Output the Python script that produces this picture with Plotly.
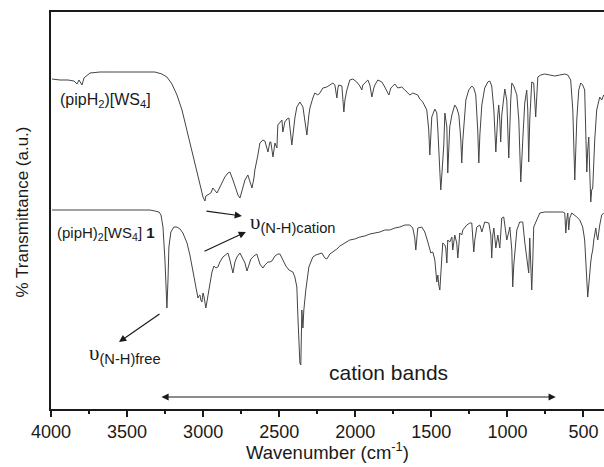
import plotly.graph_objects as go

# (wavenumber cm-1, transmittance a.u.)
top_points = [
    (3993, 330), (3941, 329), (3888, 329), (3849, 328), (3829, 325), (3816, 329), (3796, 324), (3783, 331),
    (3744, 336), (3678, 337), (3547, 337), (3415, 337), (3317, 337), (3271, 335), (3238, 332), (3205, 325),
    (3172, 314), (3139, 299), (3106, 279), (3074, 259), (3041, 239), (3015, 221), (3001, 212), (2988, 208),
    (2982, 213), (2969, 214), (2949, 216), (2936, 221), (2923, 218), (2909, 216), (2883, 224), (2857, 232),
    (2837, 236), (2824, 237), (2804, 229), (2791, 223), (2771, 214), (2758, 211), (2739, 221), (2725, 229),
    (2706, 234), (2693, 227), (2679, 221), (2666, 231), (2660, 239), (2640, 254), (2627, 266), (2607, 269),
    (2594, 268), (2574, 257), (2561, 267), (2555, 267), (2541, 252), (2528, 266), (2515, 261), (2509, 284),
    (2482, 289), (2476, 277), (2463, 287), (2449, 290), (2436, 291), (2417, 264), (2403, 284), (2397, 291),
    (2384, 302), (2364, 307), (2344, 302), (2331, 289), (2318, 274), (2305, 294), (2298, 301), (2279, 311),
    (2266, 316), (2246, 314), (2233, 316), (2213, 321), (2187, 322), (2167, 324), (2147, 326), (2134, 324),
    (2121, 311), (2114, 321), (2108, 324), (2088, 323), (2082, 314), (2075, 297), (2068, 309), (2055, 319),
    (2036, 329), (2016, 330), (1990, 327), (1970, 323), (1957, 319), (1950, 324), (1937, 326), (1917, 329),
    (1904, 324), (1891, 312), (1878, 321), (1871, 324), (1852, 329), (1825, 327), (1806, 322), (1792, 318),
    (1779, 314), (1766, 321), (1740, 325), (1720, 321), (1694, 322), (1674, 319), (1661, 317), (1641, 314),
    (1622, 316), (1589, 314), (1576, 310), (1556, 307), (1530, 299), (1517, 279), (1510, 254), (1503, 274),
    (1497, 292), (1477, 300), (1464, 296), (1457, 279), (1444, 234), (1438, 219), (1431, 234), (1425, 249),
    (1418, 264), (1411, 296), (1405, 289), (1398, 282), (1392, 236), (1385, 259), (1379, 282), (1365, 294),
    (1346, 304), (1333, 301), (1319, 294), (1306, 269), (1300, 246), (1293, 269), (1273, 309), (1254, 319),
    (1234, 323), (1221, 321), (1208, 314), (1195, 279), (1188, 246), (1181, 274), (1168, 304), (1149, 321),
    (1129, 327), (1116, 328), (1103, 323), (1089, 299), (1076, 257), (1063, 294), (1057, 304), (1050, 289),
    (1044, 267), (1037, 294), (1017, 320), (1004, 309), (991, 251), (978, 309), (971, 326), (958, 323),
    (938, 314), (925, 289), (912, 227), (899, 269), (886, 306), (873, 319), (866, 299), (860, 247),
    (853, 289), (840, 327), (827, 326), (814, 292), (800, 332), (781, 334), (754, 335), (722, 334),
    (689, 333), (656, 334), (623, 335), (603, 334), (584, 329), (570, 299), (557, 229), (544, 289),
    (531, 319), (518, 326), (505, 324), (492, 319), (485, 279), (478, 237), (472, 259), (465, 272),
    (459, 239), (452, 207), (446, 219), (439, 221), (426, 269), (413, 299), (393, 312), (380, 309),
    (367, 314),
]

bottom_points = [
    (3993, 199), (3875, 199), (3678, 199), (3481, 199), (3350, 199), (3317, 198), (3290, 197), (3277, 194),
    (3264, 182), (3251, 149), (3244, 124), (3238, 101), (3231, 129), (3225, 162), (3212, 177), (3192, 182),
    (3172, 182), (3152, 180), (3133, 176), (3106, 166), (3087, 154), (3067, 139), (3047, 124), (3034, 111),
    (3028, 113), (3021, 114), (3015, 109), (3008, 107), (3001, 116), (2995, 113), (2982, 101), (2975, 107),
    (2969, 112), (2955, 126), (2942, 137), (2929, 143), (2916, 141), (2903, 142), (2890, 147), (2870, 152),
    (2850, 155), (2837, 156), (2824, 149), (2804, 136), (2791, 147), (2778, 152), (2758, 156), (2739, 151),
    (2725, 146), (2712, 138), (2699, 145), (2686, 150), (2666, 153), (2647, 155), (2627, 145), (2607, 141),
    (2594, 144), (2574, 147), (2561, 147), (2548, 148), (2528, 153), (2509, 155), (2495, 155), (2476, 149),
    (2456, 143), (2436, 139), (2410, 137), (2397, 132), (2384, 122), (2377, 92), (2371, 64), (2364, 46),
    (2358, 44), (2351, 99), (2344, 81), (2338, 99), (2325, 119), (2318, 126), (2305, 142), (2292, 147),
    (2279, 152), (2259, 154), (2233, 155), (2220, 156), (2200, 151), (2187, 150), (2167, 155), (2147, 157),
    (2121, 160), (2101, 163), (2068, 166), (2036, 169), (2003, 170), (1970, 172), (1937, 173), (1904, 175),
    (1871, 176), (1838, 177), (1806, 179), (1773, 179), (1740, 181), (1707, 182), (1674, 184), (1641, 184),
    (1622, 181), (1609, 171), (1602, 159), (1595, 169), (1589, 181), (1563, 182), (1543, 177), (1523, 167),
    (1503, 156), (1490, 157), (1477, 149), (1464, 127), (1457, 134), (1451, 124), (1444, 119), (1438, 134),
    (1431, 149), (1425, 166), (1411, 164), (1405, 161), (1398, 146), (1392, 169), (1379, 167), (1365, 172),
    (1359, 159), (1346, 174), (1333, 166), (1326, 151), (1319, 164), (1313, 176), (1300, 174), (1293, 179),
    (1267, 184), (1247, 186), (1234, 186), (1227, 174), (1221, 157), (1214, 169), (1201, 182), (1181, 184),
    (1168, 177), (1149, 187), (1122, 186), (1109, 174), (1103, 151), (1096, 174), (1089, 181), (1076, 161),
    (1063, 174), (1050, 161), (1044, 177), (1037, 191), (1024, 192), (1004, 169), (991, 177), (984, 182),
    (971, 159), (965, 122), (958, 144), (938, 179), (919, 187), (899, 187), (886, 167), (873, 152),
    (860, 136), (853, 171), (846, 149), (840, 119), (833, 149), (827, 182), (807, 189), (787, 196),
    (754, 197), (722, 197), (689, 197), (656, 197), (636, 197), (623, 196), (616, 176), (610, 189),
    (603, 196), (597, 179), (590, 191), (577, 196), (557, 194), (544, 192), (524, 189), (505, 182),
    (492, 169), (485, 152), (478, 134), (472, 112), (465, 124), (459, 139), (452, 147), (446, 154),
    (439, 159), (432, 169), (419, 181), (413, 174), (406, 169), (393, 184), (380, 194), (367, 196),
]

wn_top = [p[0] for p in top_points]
t_top = [p[1] for p in top_points]
wn_bottom = [p[0] for p in bottom_points]
t_bottom = [p[1] for p in bottom_points]

x_tick_values = [4000, 3500, 3000, 2500, 2000, 1500, 1000, 500]

FONT = "Liberation Sans, Arial, sans-serif"
INK = "#1a1a1a"
LINE = "#444444"

fig = go.Figure()
fig.add_trace(go.Scatter(x=wn_top, y=t_top, mode="lines",
                         line=dict(color=LINE, width=1), showlegend=False))
fig.add_trace(go.Scatter(x=wn_bottom, y=t_bottom, mode="lines",
                         line=dict(color=LINE, width=1), showlegend=False))

annotations = [
    dict(x=3954, y=309, xref="x", yref="y", xanchor="left", yanchor="middle", showarrow=False,
         text="(pipH<sub>2</sub>)[WS<sub>4</sub>]", font=dict(size=16)),
    dict(x=3974, y=176, xref="x", yref="y", xanchor="left", yanchor="middle", showarrow=False,
         text="(pipH)<sub>2</sub>[WS<sub>4</sub>] <b>1</b>", font=dict(size=15)),
    dict(x=2706, y=186, xref="x", yref="y", xanchor="left", yanchor="middle", showarrow=False,
         text="<span style='font-family:Liberation Serif'>υ</span><sub>(N-H)cation</sub>", font=dict(size=21)),
    dict(x=3763, y=55, xref="x", yref="y", xanchor="left", yanchor="middle", showarrow=False,
         text="<span style='font-family:Liberation Serif'>υ</span><sub>(N-H)free</sub>", font=dict(size=21)),
    dict(x=1779, y=37, xref="x", yref="y", xanchor="center", yanchor="middle", showarrow=False,
         text="cation bands", font=dict(size=21)),
    # arrows
    dict(x=2745, y=193, ax=2988, ay=198, xref="x", yref="y", axref="x", ayref="y", text="",
         showarrow=True, arrowhead=2, arrowsize=1.2, arrowwidth=1.2, arrowcolor=INK),
    dict(x=2719, y=177, ax=3001, ay=157, xref="x", yref="y", axref="x", ayref="y", text="",
         showarrow=True, arrowhead=2, arrowsize=1.2, arrowwidth=1.2, arrowcolor=INK),
    dict(x=3553, y=67, ax=3277, ay=96, xref="x", yref="y", axref="x", ayref="y", text="",
         showarrow=True, arrowhead=2, arrowsize=1.2, arrowwidth=1.2, arrowcolor=INK),
    dict(x=682, y=12, ax=3284, ay=12, xref="x", yref="y", axref="x", ayref="y", text="",
         showarrow=True, arrowhead=2, startarrowhead=2, arrowside="end+start", arrowsize=1.2,
         startarrowsize=1.2, arrowwidth=1.2, arrowcolor=INK),
    # axis titles
    dict(x=0.5, y=-0.106, xref="paper", yref="paper", xanchor="center", yanchor="middle",
         showarrow=False, text="Wavenumber (cm<sup>-1</sup>)", font=dict(size=18.5)),
    dict(x=-0.0524, y=0.495, xref="paper", yref="paper", xanchor="center", yanchor="middle",
         showarrow=False, textangle=-90, text="% Transmittance (a.u.)", font=dict(size=17)),
]

fig.update_layout(
    width=604, height=467,
    margin=dict(l=51, r=0, t=12, b=58, autoexpand=False),
    paper_bgcolor="white", plot_bgcolor="white",
    font=dict(family=FONT, color=INK),
    annotations=annotations,
    xaxis=dict(range=[4000, 365], showline=True, linecolor=INK, linewidth=1.5, mirror=True,
               tickmode="array", tickvals=x_tick_values, ticks="outside", ticklen=6, tickwidth=1.5,
               tickcolor=INK, tickfont=dict(size=18), showgrid=False, zeroline=False, automargin=False,
               minor=dict(dtick=250, tick0=0, ticks="outside", ticklen=3, tickwidth=1.5, tickcolor=INK)),
    yaxis=dict(range=[0, 397], showline=True, linecolor=INK, linewidth=1.5, mirror=False,
               showticklabels=False, ticks="", showgrid=False, zeroline=False, automargin=False),
)

fig.write_html("out.html", config={"displayModeBar": False},
               post_script="document.body.style.margin='0';document.body.style.padding='0';")
